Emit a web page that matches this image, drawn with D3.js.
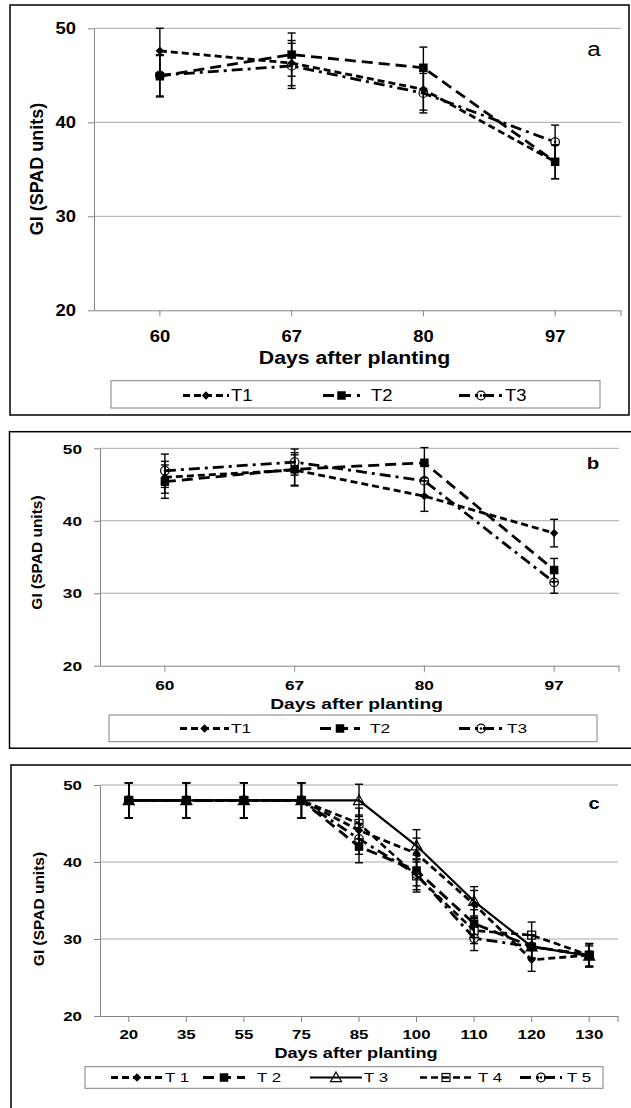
<!DOCTYPE html>
<html><head><meta charset="utf-8">
<script src="https://cdn.jsdelivr.net/npm/d3@7"></script>
<style>
html,body{margin:0;padding:0;background:#fff;}
svg{display:block;}
text{font-family:"Liberation Sans",Arial,sans-serif;fill:#000;}
</style></head><body>
<svg id="chart" width="631" height="1108"></svg>
<script>
// ---------------- data ----------------
const daysAB = ["60","67","80","97"];
const daysC  = ["20","35","55","75","85","100","110","120","130"];
const yTicks = [20,30,40,50];
const namesAB = ["T1","T2","T3"];
const namesC  = ["T 1","T 2","T 3","T 4","T 5"];
const panelLabels = ["a","b","c"];
const xTitle = "Days after planting";
const yTitle = "GI (SPAD units)";

// panel a
const a_T1 = [47.6,46.3,43.5,35.8];
const a_T2 = [44.9,47.2,45.8,35.8];
const a_T3 = [45.0,46.0,43.1,37.9];
const a_T1_err = [2.4,2.4,2.2,1.8];
const a_T2_err = [2.2,2.3,2.2,1.8];
const a_T3_err = [2.2,2.4,2.1,1.8];
// panel b
const b_T1 = [46.0,47.0,43.4,38.3];
const b_T2 = [45.4,47.1,48.0,33.2];
const b_T3 = [46.9,48.1,45.5,31.5];
const b_T1_err = [2.2,2.1,2.1,1.9];
const b_T2_err = [2.3,2.3,2.1,1.6];
const b_T3_err = [2.3,1.8,2.0,1.5];
// panel c
const c_T1 = [48,48,48,48,44.1,41.1,34.5,27.3,27.9];
const c_T2 = [48,48,48,48,42.0,38.9,32.0,29.0,27.9];
const c_T3 = [48,48,48,48,48.0,42.1,34.9,29.0,27.8];
const c_T4 = [48,48,48,48,45.0,38.2,31.1,30.5,27.9];
const c_T5 = [48,48,48,48,43.0,38.4,30.1,29.0,27.9];
const c_T1_err = [2.3,2.3,2.3,2.3,2.0,2.0,1.8,1.5,1.5];
const c_T2_err = [2.3,2.3,2.3,2.3,2.1,2.0,1.8,1.5,1.5];
const c_T3_err = [2.3,2.3,2.3,2.3,2.1,2.1,1.9,1.5,1.3];
const c_T4_err = [2.3,2.3,2.3,2.3,2.0,2.1,1.7,1.7,1.5];
const c_T5_err = [2.3,2.3,2.3,2.3,2.0,2.0,1.6,1.5,1.5];

// ---------------- styles ----------------
const sT1 = {marker:"diamond", dash:"7,4", w:2.8};
const sT2 = {marker:"square",  dash:"11,6", w:2.8};
const sT3 = {marker:"circdot", dash:"11,5,3,5", w:2.8};
const sC3 = {marker:"triangle", dash:null, w:2.2};
const sC4 = {marker:"osquare", dash:"7,4", w:2.6};

// ---------------- layout ----------------
const panels = [
  { cats:daysAB, names:namesAB, label:panelLabels[0], labelBold:false,
    series:[[a_T1,a_T1_err,sT1],[a_T2,a_T2_err,sT2],[a_T3,a_T3_err,sT3]],
    frame:[10,5,619,410], plot:{l:94,r:621,t:28.3,b:310.3},
    fs:{tick:16, title:18.5, ytitle:18, leg:16, lab:21}, sx:1.15,
    yLabRight:76, xLabY:336, xTitleY:357.3, yTitleX:37, yTitleY:169,
    labPos:[594,49],
    leg:{box:[111,380.7,489,27.3], y:395.5,
         items:[[183,229,231],[323,360,371],[459,503,505]]} },
  { cats:daysAB, names:namesAB, label:panelLabels[1], labelBold:true,
    series:[[b_T1,b_T1_err,sT1],[b_T2,b_T2_err,sT2],[b_T3,b_T3_err,sT3]],
    frame:[9.5,431.7,630,316.5], plot:{l:100,r:619,t:448.3,b:665.7},
    fs:{tick:13.5, title:15, ytitle:15.5, leg:13.5, lab:16}, sx:1.28,
    yLabRight:82, xLabY:685, xTitleY:704, yTitleX:37, yTitleY:552.5,
    labPos:[593,463],
    leg:{box:[109,715,488,26.7], y:728.5,
         items:[[180,229,231],[320,360,370],[459,503,507]]} },
  { cats:daysC, names:namesC, label:panelLabels[2], labelBold:true,
    series:[[c_T1,c_T1_err,sT1],[c_T2,c_T2_err,sT2],[c_T3,c_T3_err,sC3],[c_T4,c_T4_err,sC4],[c_T5,c_T5_err,sT3]],
    frame:[11,765,630,360], plot:{l:100,r:618,t:785,b:1016},
    fs:{tick:13.5, title:14.5, ytitle:15.5, leg:13.5, lab:16}, sx:1.25,
    yLabRight:82, xLabY:1034, xTitleY:1053.3, yTitleX:39, yTitleY:909,
    labPos:[594,803],
    leg:{box:[85,1066.7,518,21.6], y:1077.5,
         items:[[111,163,165],[203,245,257],[310,362,364],[420,472,478],[520,562,567]]} }
];

const svg = d3.select("#chart");
const AX = "#858585", GRID = "#a8a8a8";

function drawMarker(g, type, x, y) {
  if (type === "diamond") {
    const r = 4.2;
    g.append("path").attr("d", `M${x},${y-r}L${x+r},${y}L${x},${y+r}L${x-r},${y}Z`).attr("fill","#000");
  } else if (type === "square") {
    const s = 8.5;
    g.append("rect").attr("x",x-s/2).attr("y",y-s/2).attr("width",s).attr("height",s).attr("fill","#000");
  } else if (type === "osquare") {
    const s = 8;
    g.append("rect").attr("x",x-s/2).attr("y",y-s/2).attr("width",s).attr("height",s)
      .attr("fill","none").attr("stroke","#000").attr("stroke-width",1.2);
  } else if (type === "triangle") {
    const r = 5.5;
    g.append("path").attr("d", `M${x},${y-r}L${x+r},${y+r*0.75}L${x-r},${y+r*0.75}Z`)
      .attr("fill","none").attr("stroke","#000").attr("stroke-width",1.2);
  } else if (type === "circdot") {
    g.append("circle").attr("cx",x).attr("cy",y).attr("r",4.3)
      .attr("fill","none").attr("stroke","#000").attr("stroke-width",1.2);
    g.append("circle").attr("cx",x).attr("cy",y).attr("r",1.2).attr("fill","#000");
  }
}

function stretchedText(g, x, y, str, size, sx, opts) {
  const gg = g.append("g").attr("transform", `translate(${x},${y}) scale(${sx},1)`);
  return gg.append("text").attr("text-anchor", opts.anchor || "middle").attr("dy","0.35em")
    .attr("font-size", size).attr("font-weight", opts.bold ? "bold" : "normal").text(str);
}

panels.forEach(p => {
  const g = svg.append("g");
  const [fx,fy,fw,fh] = p.frame;
  g.append("rect").attr("x",fx).attr("y",fy).attr("width",fw).attr("height",fh)
    .attr("fill","none").attr("stroke","#000").attr("stroke-width",1.5);

  const x = d3.scaleBand().domain(p.cats).range([p.plot.l, p.plot.r]).padding(0);
  const y = d3.scaleLinear().domain([20,50]).range([p.plot.b, p.plot.t]);
  const cx = c => x(c) + x.bandwidth()/2;

  // gridlines
  g.append("g").selectAll("line").data(yTicks.filter(t => t > 20)).join("line")
    .attr("x1", p.plot.l).attr("x2", p.plot.r).attr("y1", d => y(d)).attr("y2", d => y(d))
    .attr("stroke", GRID).attr("stroke-width", 1);

  // y axis
  const ya = g.append("g").attr("transform", `translate(${p.plot.l},0)`)
    .call(d3.axisLeft(y).tickValues(yTicks).tickSize(6).tickSizeOuter(0).tickFormat(d3.format("d")));
  ya.select(".domain").attr("stroke", AX);
  ya.selectAll(".tick line").attr("stroke", AX);
  ya.selectAll(".tick text")
    .attr("x", -(p.plot.l - p.yLabRight)/p.sx).attr("dy","0.35em")
    .attr("transform", `scale(${p.sx},1)`)
    .attr("font-size", p.fs.tick).attr("font-weight","bold")
    .attr("font-family", '"Liberation Sans",Arial,sans-serif').attr("fill","#000");

  // x axis
  const xa = g.append("g").attr("transform", `translate(0,${p.plot.b})`)
    .call(d3.axisBottom(x).tickSize(6).tickSizeOuter(0));
  xa.select(".domain").attr("stroke", AX);
  xa.selectAll(".tick line").attr("stroke", AX);
  xa.selectAll(".tick text")
    .attr("y", p.xLabY - p.plot.b).attr("dy","0.35em")
    .attr("transform", `scale(${p.sx},1)`)
    .attr("font-size", p.fs.tick).attr("font-weight","bold")
    .attr("font-family", '"Liberation Sans",Arial,sans-serif').attr("fill","#000");
  g.append("line").attr("x1", x.range()[1]).attr("x2", x.range()[1])
    .attr("y1", p.plot.b).attr("y2", p.plot.b + 6).attr("stroke", AX);

  // titles
  stretchedText(g, (p.plot.l + p.plot.r)/2 - 3, p.xTitleY, xTitle, p.fs.title, p.sx, {bold:true});
  g.append("text").attr("transform", `translate(${p.yTitleX},${p.yTitleY}) rotate(-90)`)
    .attr("text-anchor","middle").attr("dy","0.35em").attr("font-size", p.fs.ytitle)
    .attr("font-weight","bold").text(yTitle);
  stretchedText(g, p.labPos[0], p.labPos[1], p.label, p.fs.lab, p.sx, {bold:p.labelBold});

  // series lines
  const line = d3.line().x((d,i) => cx(p.cats[i])).y(d => y(d));
  p.series.forEach(([vals, errs, st]) => {
    g.append("path").datum(vals).attr("d", line).attr("fill","none")
      .attr("stroke","#000").attr("stroke-width", st.w)
      .attr("stroke-dasharray", st.dash).attr("stroke-linejoin","round");
  });
  // error bars
  p.series.forEach(([vals, errs]) => {
    const eg = g.append("g").attr("stroke","#000").attr("stroke-width",1.4);
    vals.forEach((v,i) => {
      const xx = cx(p.cats[i]), y1 = y(v + errs[i]), y2 = y(v - errs[i]);
      eg.append("line").attr("x1",xx).attr("x2",xx).attr("y1",y1).attr("y2",y2);
      eg.append("line").attr("x1",xx-4).attr("x2",xx+4).attr("y1",y1).attr("y2",y1);
      eg.append("line").attr("x1",xx-4).attr("x2",xx+4).attr("y1",y2).attr("y2",y2);
    });
  });
  // markers
  p.series.forEach(([vals, errs, st]) => {
    const mg = g.append("g");
    vals.forEach((v,i) => drawMarker(mg, st.marker, cx(p.cats[i]), y(v)));
  });

  // legend
  const L = p.leg;
  g.append("rect").attr("x",L.box[0]).attr("y",L.box[1]).attr("width",L.box[2]).attr("height",L.box[3])
    .attr("fill","#fff").attr("stroke","#808080").attr("stroke-width",1);
  p.series.forEach(([vals, errs, st], k) => {
    const [x1,x2,tx] = L.items[k];
    g.append("line").attr("x1",x1).attr("x2",x2).attr("y1",L.y).attr("y2",L.y)
      .attr("stroke","#000").attr("stroke-width", st.w).attr("stroke-dasharray", st.dash);
    drawMarker(g, st.marker, (x1+x2)/2, L.y);
    stretchedText(g, tx, L.y, p.names[k], p.fs.leg, p.sx, {anchor:"start"});
  });
});
</script>
</body></html>
